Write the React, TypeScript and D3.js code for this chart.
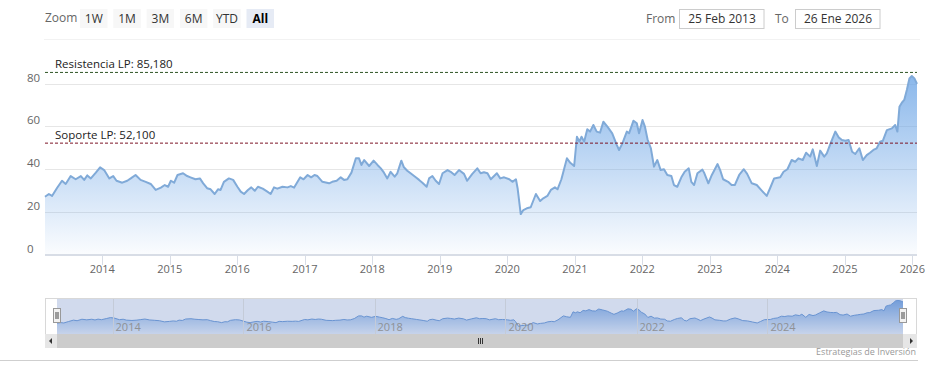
import React from 'react';
import * as d3 from 'd3';

const dates: string[] = [
  '2013-02-25','2013-03-18','2013-04-04','2013-05-01','2013-05-28','2013-06-17','2013-07-14','2013-08-10','2013-09-07','2013-09-25',
  '2013-10-12','2013-10-31','2013-11-27','2013-12-20','2014-01-11','2014-02-08','2014-03-01','2014-03-19','2014-04-19','2014-05-16',
  '2014-06-04','2014-06-30','2014-07-27','2014-08-24','2014-09-20','2014-10-17','2014-11-14','2014-12-05','2014-12-23','2015-01-07',
  '2015-01-25','2015-02-12','2015-03-14','2015-04-05','2015-04-23','2015-05-20','2015-06-13','2015-07-01','2015-07-22','2015-08-10',
  '2015-09-01','2015-09-19','2015-10-03','2015-10-21','2015-11-17','2015-12-10','2016-01-02','2016-01-20','2016-02-07','2016-02-28',
  '2016-03-17','2016-04-05','2016-04-22','2016-05-18','2016-06-12','2016-06-30','2016-07-18','2016-08-05','2016-09-02','2016-09-29',
  '2016-10-17','2016-11-04','2016-12-07','2016-12-25','2017-01-16','2017-02-04','2017-02-22','2017-03-10','2017-04-06','2017-05-12',
  '2017-05-29','2017-06-22','2017-07-14','2017-08-01','2017-08-19','2017-09-10','2017-10-04','2017-10-21','2017-11-03','2017-11-18',
  '2017-12-15','2018-01-08','2018-01-29','2018-02-16','2018-03-05','2018-03-23','2018-04-10','2018-05-02','2018-05-16','2018-06-07',
  '2018-06-21','2018-07-09','2018-07-27','2018-08-24','2018-09-11','2018-09-29','2018-10-22','2018-11-04','2018-11-22','2018-12-10',
  '2018-12-28','2019-01-16','2019-02-12','2019-03-01','2019-03-22','2019-04-15','2019-05-12','2019-05-29','2019-06-26','2019-07-23',
  '2019-08-10','2019-08-28','2019-09-16','2019-10-04','2019-11-06','2019-11-24','2019-12-15','2020-01-12','2020-01-29','2020-02-17',
  '2020-02-26','2020-03-14','2020-03-28','2020-04-16','2020-05-07','2020-06-04','2020-06-27','2020-07-14','2020-08-05','2020-08-24',
  '2020-09-15','2020-09-29','2020-10-20','2020-11-19','2020-12-07','2020-12-28','2021-01-12','2021-01-25','2021-02-06','2021-02-20',
  '2021-03-09','2021-03-24','2021-04-11','2021-04-29','2021-05-17','2021-06-04','2021-06-26','2021-07-22','2021-08-16','2021-08-28',
  '2021-09-15','2021-10-09','2021-10-21','2021-11-14','2021-12-02','2021-12-14','2022-01-02','2022-01-15','2022-01-29','2022-02-16',
  '2022-03-05','2022-03-23','2022-04-10','2022-04-28','2022-05-16','2022-06-07','2022-06-21','2022-07-09','2022-07-31','2022-08-18',
  '2022-09-09','2022-09-23','2022-10-08','2022-10-26','2022-11-22','2022-12-01','2022-12-24','2023-01-12','2023-02-12','2023-02-26',
  '2023-03-14','2023-04-10','2023-04-29','2023-05-16','2023-06-09','2023-07-04','2023-07-22','2023-08-16','2023-09-12','2023-10-09',
  '2023-11-05','2023-11-23','2023-12-15','2024-01-17','2024-02-04','2024-02-25','2024-03-19','2024-04-07','2024-04-24','2024-05-18',
  '2024-06-05','2024-06-27','2024-07-11','2024-08-02','2024-08-20','2024-09-11','2024-09-25','2024-10-17','2024-11-10','2024-11-28',
  '2024-12-16','2025-01-03','2025-01-21','2025-02-09','2025-02-26','2025-03-20','2025-04-08','2025-04-29','2025-05-17','2025-06-04',
  '2025-06-22','2025-07-10','2025-07-25','2025-08-16','2025-09-12','2025-09-30','2025-10-12','2025-10-23','2025-11-05','2025-11-18',
  '2025-12-02','2025-12-16','2025-12-29','2026-01-12','2026-01-26',
];

const values: number[] = [
  27.0,28.3,27.4,31.1,34.5,33.0,36.7,35.2,36.7,34.9,
  37.0,35.6,38.3,40.8,39.5,35.6,36.7,34.5,33.6,34.5,
  35.6,37.2,34.9,34.0,33.0,30.2,31.3,32.5,31.7,34.5,
  33.6,37.2,38.0,36.7,36.1,35.2,35.6,33.3,31.0,30.5,
  28.3,30.5,30.2,34.0,35.6,34.9,31.7,29.4,28.3,30.2,
  31.4,29.8,31.7,30.8,29.4,28.3,31.4,30.8,31.7,31.4,
  32.0,31.3,36.1,35.2,37.2,36.1,37.2,36.7,34.0,33.3,
  34.0,34.5,36.1,34.9,35.2,38.3,45.0,45.0,41.9,44.2,
  41.4,43.9,41.9,40.3,38.3,35.6,38.7,36.4,38.0,43.9,
  40.8,39.2,38.0,36.1,34.9,33.6,31.7,35.6,36.7,34.5,
  33.0,38.0,39.5,38.7,37.2,39.5,37.7,34.5,37.7,40.3,
  38.0,38.5,38.0,35.2,38.0,35.6,36.1,35.2,34.0,35.2,
  31.0,18.9,20.8,21.6,22.1,28.3,25.0,26.3,27.4,30.2,
  31.4,30.5,35.2,45.0,42.9,41.4,55.1,52.8,55.1,52.8,
  58.6,57.5,60.6,57.5,57.0,62.1,59.8,56.7,51.2,48.9,
  52.0,57.5,56.7,62.6,61.4,56.7,62.9,59.8,53.9,49.7,
  41.1,44.2,39.5,39.9,37.2,36.7,32.5,31.7,36.1,38.7,
  40.3,34.0,32.5,38.0,39.7,38.3,33.3,37.2,42.3,39.5,
  35.2,34.0,32.5,32.5,37.2,39.9,37.7,33.3,32.5,29.9,
  27.4,31.0,35.6,36.1,38.7,39.9,44.2,43.4,45.0,44.2,
  47.6,45.8,49.2,41.4,48.6,45.8,47.3,52.3,57.5,54.8,
  53.6,53.2,53.6,48.1,47.0,49.7,44.2,46.5,47.6,48.9,
  49.7,52.8,53.2,58.2,59.0,60.6,57.5,69.1,71.0,72.3,
  77.0,82.4,83.5,82.4,79.8,
];

const yTicks: number[] = [0, 20, 40, 60, 80];
const rangeButtons: string[] = ['1W', '1M', '3M', '6M', 'YTD', 'All'];
const plotLineLabels: string[] = ['Resistencia LP: 85,180', 'Soporte LP: 52,100'];
const plotLineValues: number[] = [85.18, 52.1];
const plotLineColors: string[] = ['#2e5524', '#7d1426'];
const fromText = '25 Feb 2013';
const toText = '26 Ene 2026';
const creditText = 'Estrategias de Inversión';

const FONT = '"Open Sans", "DejaVu Sans", sans-serif';

export default function App() {
  const parse = d3.timeParse('%Y-%m-%d');
  const data = dates.map((d, i) => ({ date: parse(d) as Date, value: values[i] }));
  const start = data[0].date;
  const end = data[data.length - 1].date;

  const L = 45, R = 917;
  const x = d3.scaleTime().domain([start, end]).range([L, R]);
  const y = d3.scaleLinear().domain([0, 80]).range([254.5, 83.5]);

  const area = d3.area<any>().x(d => x(d.date)).y0(y(0)).y1(d => y(d.value));
  const line = d3.line<any>().x(d => x(d.date)).y(d => y(d.value));

  const yearTicks = d3.timeYear.range(d3.timeYear.ceil(start), end).filter(t => t <= end);

  // navigator
  const NL = 57, NR = 903, NT = 298, NB = 334;
  const nx = d3.scaleTime().domain([start, end]).range([NL, NR]);
  const ny = d3.scaleLinear().domain([0, 87]).range([NB, NT + 1]);
  const narea = d3.area<any>().x(d => nx(d.date)).y0(NB).y1(d => ny(d.value));
  const nline = d3.line<any>().x(d => nx(d.date)).y(d => ny(d.value));
  const navTicks = d3.timeYear.every(2)!.range(d3.timeYear.ceil(start), end).filter(t => nx(t) < NR - 30);

  return (
    <div style={{ position: 'absolute', left: 0, top: 0 }}>
      <svg width={932} height={379} style={{ display: 'block', fontFamily: FONT }}>
        <defs>
          <linearGradient id="mainFill" x1="0" y1="0" x2="0" y2="1">
            <stop offset="0" stopColor="#6ea6e6" stopOpacity={0.8} />
            <stop offset="1" stopColor="#6ea6e6" stopOpacity={0.03} />
          </linearGradient>
          <linearGradient id="navFill" x1="0" y1="0" x2="0" y2="1">
            <stop offset="0" stopColor="#6b9fe0" stopOpacity={0.9} />
            <stop offset="1" stopColor="#6b9fe0" stopOpacity={0.1} />
          </linearGradient>
        </defs>
        <rect x={0} y={0} width={932} height={379} fill="#ffffff" />

        {/* range selector */}
        <text x={45} y={22} fontSize={12} fill="#666">Zoom</text>
        {rangeButtons.map((b, i) => {
          const bx = 80 + i * 33.3;
          const sel = b === 'All';
          return (
            <g key={b}>
              <rect x={bx} y={9} width={27.5} height={19} fill={sel ? '#e6ebf5' : '#f7f7f7'} />
              <text x={bx + 13.75} y={22.5} fontSize={12} textAnchor="middle"
                fill={sel ? '#000' : '#333'} fontWeight={sel ? 'bold' : 'normal'}>{b}</text>
            </g>
          );
        })}
        <text x={646} y={22.5} fontSize={12} fill="#666">From</text>
        <rect x={679.5} y={9.5} width={84.5} height={19} fill="#fff" stroke="#cccccc" />
        <text x={722} y={22.5} fontSize={12} fill="#333" textAnchor="middle">{fromText}</text>
        <text x={775} y={22.5} fontSize={12} fill="#666">To</text>
        <rect x={795.5} y={9.5} width={84.5} height={19} fill="#fff" stroke="#cccccc" />
        <text x={838} y={22.5} fontSize={12} fill="#333" textAnchor="middle">{toText}</text>
        <line x1={44} x2={920} y1={39.5} y2={39.5} stroke="#f2f2f2" />

        {/* grid */}
        {yTicks.filter(t => t > 0).map(t => (
          <line key={t} x1={L} x2={R} y1={Math.round(y(t)) + 0.5} y2={Math.round(y(t)) + 0.5} stroke="#e6e6e6" />
        ))}
        {yTicks.map(t => (
          <text key={'l' + t} x={27} y={y(t) - 2} fontSize={11.5} fill="#666">{t}</text>
        ))}

        {/* series */}
        <path d={area(data) || ''} fill="url(#mainFill)" />
        <path d={line(data) || ''} fill="none" stroke="#80aad8" strokeWidth={2} strokeLinejoin="round" />

        {/* plot lines */}
        {plotLineValues.map((v, i) => (
          <g key={'pl' + i}>
            <line x1={L} x2={R} y1={y(v)} y2={y(v)} stroke={plotLineColors[i]} strokeWidth={1} strokeDasharray="3,2" />
            <text x={55} y={y(v) - 4} fontSize={11.5} fill="#222">{plotLineLabels[i]}</text>
          </g>
        ))}

        {/* x axis */}
        <line x1={L} x2={R} y1={255} y2={255} stroke="#d8dde6" strokeWidth={2} />
        {yearTicks.map(t => (
          <g key={+t}>
            <line x1={Math.round(x(t)) + 0.5} x2={Math.round(x(t)) + 0.5} y1={256} y2={265} stroke="#d8dde6" />
            <text x={x(t)} y={273} fontSize={11} fill="#666" textAnchor="middle">{d3.timeFormat('%Y')(t)}</text>
          </g>
        ))}

        {/* navigator */}
        <rect x={L + 0.5} y={NT + 0.5} width={R - L - 1} height={NB - NT} fill="#fff" stroke="#d8d8d8" />
        <path d={narea(data) || ''} fill="url(#navFill)" />
        <path d={nline(data) || ''} fill="none" stroke="#6b9bd8" strokeWidth={1} />
        <rect x={NL} y={NT + 1} width={NR - NL} height={NB - NT - 1} fill="rgba(102,133,194,0.3)" />
        {navTicks.map(t => (
          <g key={'n' + +t}>
            <line x1={Math.round(nx(t)) + 0.5} x2={Math.round(nx(t)) + 0.5} y1={NT + 1} y2={NB} stroke="#c4cbd8" />
            <text x={nx(t) + 3} y={331} fontSize={11} fill="#888" opacity={0.85}>{d3.timeFormat('%Y')(t)}</text>
          </g>
        ))}
        {[NL, NR].map((hx, i) => (
          <g key={'h' + i}>
            <rect x={hx - 3.5} y={308.5} width={7} height={14} fill="#f2f2f2" stroke="#999" />
            <line x1={hx - 1} x2={hx - 1} y1={312} y2={319} stroke="#444" />
            <line x1={hx + 1} x2={hx + 1} y1={312} y2={319} stroke="#444" />
          </g>
        ))}

        {/* scrollbar */}
        <rect x={L} y={334} width={R - L} height={14} fill="#eeeeee" />
        <rect x={NL} y={334} width={NR - NL} height={14} fill="#cccccc" />
        <rect x={L} y={334} width={NL - L} height={14} fill="#e6e6e6" />
        <rect x={NR} y={334} width={R - NR} height={14} fill="#e6e6e6" />
        <path d={`M${L + 7},${338} L${L + 7},${344} L${L + 4},${341} Z`} fill="#333" />
        <path d={`M${R - 7},${338} L${R - 7},${344} L${R - 4},${341} Z`} fill="#333" />
        {[-2, 0, 2].map(o => (
          <line key={'g' + o} x1={(NL + NR) / 2 + o + 0.5} x2={(NL + NR) / 2 + o + 0.5} y1={338} y2={344} stroke="#333" />
        ))}

        {/* credits */}
        <text x={916} y={355} fontSize={9} fill="#999" textAnchor="end">{creditText}</text>
        <line x1={0} x2={918} y1={360.5} y2={360.5} stroke="#cfcfcf" />
      </svg>
    </div>
  );
}
